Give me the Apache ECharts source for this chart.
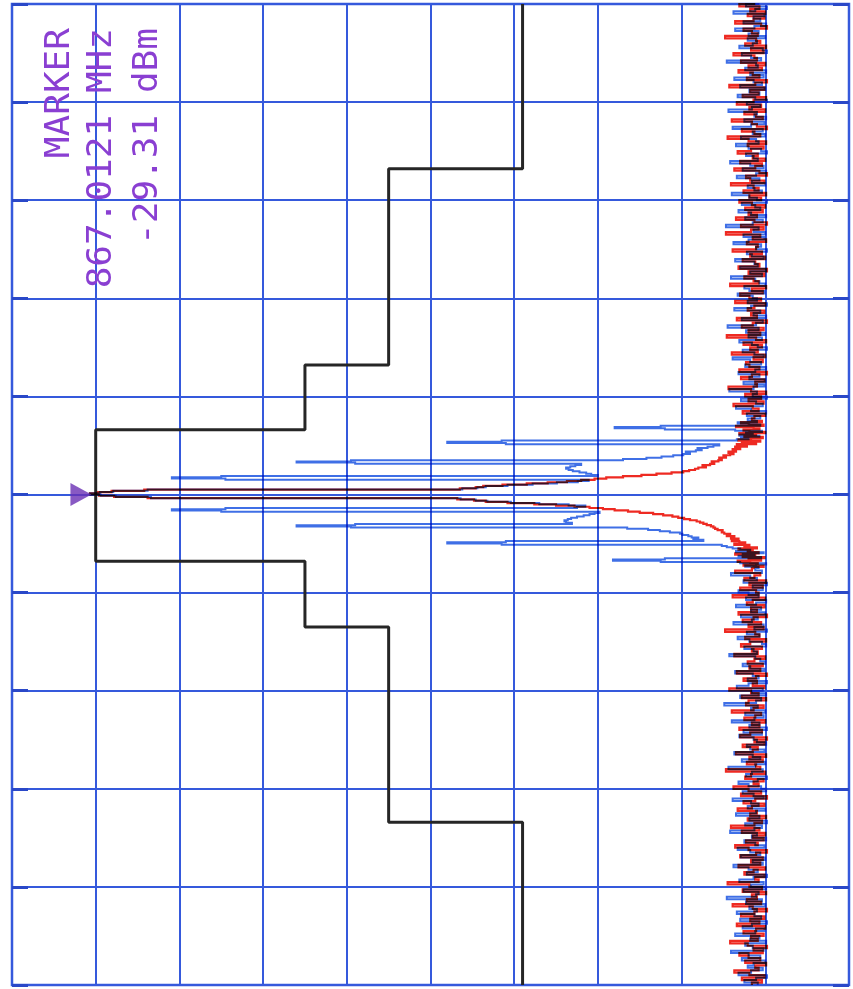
<!DOCTYPE html>
<html>
<head>
<meta charset="utf-8">
<title>Spectrum plot 867.0121 MHz</title>
<script src="https://cdn.jsdelivr.net/npm/echarts@6/dist/echarts.min.js"></script>
<style>
  html, body { margin: 0; padding: 0; background: #ffffff; }
  #chart { width: 853px; height: 989px; }
</style>
</head>
<body>
<div id="chart"></div>
<script>
// Analyzer settings: reference level, 10 dB/div, frequency offset from centre (kHz)
const refLevelDbm = -20;
const bottomLevelDbm = -120;
const dbPerDiv = 10;
const spanHalfKHz = 50;
const kHzPerDiv = 10;

// Marker readout
const markerFreqMHz = '867.0121';
const markerLevelDbm = -29.31;
const markerOffsetKHz = 0;

// Limit mask: frequency edges (kHz) and the level (dBm) between consecutive edges
const maskEdgesKHz = [-50, -33.4, -13.5, -6.8, 6.6, 13.2, 33.2, 50];
const maskLevelsDbm = [-81, -65, -55, -30, -55, -65, -81];

// Sweep bins: outer parts at 0.25 kHz, centre part at 0.125 kHz
const lowStartKHz = -50, lowStepKHz = 0.25, lowCount = 170;
const midStartKHz = -7.5, midStepKHz = 0.125, midCount = 121;
const highStartKHz = 7.75, highStepKHz = 0.25, highCount = 170;

// Trace A (red): unmodulated carrier, levels in dBm
const redLow = [
-108.4,-109.6,-107.2,-109.9,-108.1,-106.3,-109.2,-108.8,-110.1,-107.6,
-109.4,-108.0,-106.9,-109.7,-108.6,-110.2,-107.9,-105.8,-109.1,-108.3,
-109.8,-107.4,-108.9,-110.0,-106.6,-109.3,-108.2,-109.9,-107.1,-108.7,
-110.2,-108.5,-106.1,-109.5,-107.8,-109.0,-108.4,-110.1,-107.3,-109.6,
-108.1,-105.5,-109.2,-108.8,-109.9,-107.5,-108.6,-110.0,-106.8,-109.4,
-108.3,-109.7,-107.0,-108.9,-110.2,-108.0,-106.4,-109.1,-107.7,-109.8,
-108.5,-110.0,-107.2,-109.3,-105.9,-108.7,-109.6,-107.9,-110.1,-108.2,
-109.0,-106.7,-108.4,-109.9,-107.4,-108.8,-110.2,-107.1,-109.5,-108.0,
-106.2,-109.2,-108.6,-109.8,-107.6,-108.3,-110.0,-105.3,-109.4,-108.9,
-107.8,-109.7,-108.1,-110.1,-106.5,-108.5,-109.1,-107.3,-109.9,-108.7,
-110.2,-107.0,-108.2,-109.6,-106.9,-109.3,-108.4,-110.0,-107.5,-108.8,
-109.5,-106.0,-108.6,-109.8,-107.7,-108.0,-110.1,-107.2,-109.2,-108.3,
-105.7,-109.9,-108.5,-109.0,-107.4,-108.9,-110.2,-106.6,-109.4,-108.1,
-109.7,-107.9,-108.7,-110.0,-106.3,-109.1,-108.4,-109.6,-107.1,-108.2,
-110.1,-107.6,-109.3,-108.8,-105.2,-109.8,-108.0,-109.5,-107.3,-108.6,
-110.2,-106.8,-109.0,-108.3,-109.9,-107.8,-108.5,-110.0,-106.1,-109.2,
-108.9,-107.0,-109.7,-108.1,-110.1,-107.5,-108.7,-109.4,-106.4,-108.4
];
const redMid = [
-108.6,-109.8,-107.4,-109.1,-108.2,-106.7,-109.5,-108.0,-109.9,-107.3,
-108.8,-106.4,-109.2,-107.9,-108.5,-106.8,-109.0,-107.5,-108.1,-106.3,
-107.6,-106.9,-106.0,-106.8,-105.9,-106.3,-105.4,-105.8,-105.1,-104.8,
-104.9,-104.3,-104.0,-103.8,-103.5,-103.0,-102.6,-102.2,-101.8,-101.0,
-100.3,-99.6,-98.9,-97.8,-96.6,-95.0,-93.6,-92.0,-90.6,-89.0,
-87.2,-85.0,-82.4,-79.2,-76.6,-75.2,-73.2,-36.2,-32.2,-30.4,
-29.31,
-30.3,-31.9,-35.8,-73.5,-75.4,-76.3,-78.6,-81.5,-84.0,-86.3,
-88.0,-89.6,-91.0,-93.0,-95.2,-97.0,-98.8,-100.2,-100.9,-101.6,
-102.0,-102.9,-102.5,-103.4,-103.9,-103.6,-104.4,-104.8,-104.5,-105.3,
-105.0,-105.8,-106.2,-105.6,-106.5,-106.1,-107.0,-106.4,-107.8,-106.6,
-108.9,-107.2,-109.4,-106.8,-108.3,-109.7,-107.5,-108.9,-106.9,-110.0,
-108.1,-107.4,-109.3,-108.6,-106.5,-109.8,-108.0,-107.1,-109.6,-108.4
];
const redHigh = [
-108.7,-110.0,-107.3,-109.2,-108.5,-106.2,-109.8,-108.0,-109.5,-107.6,
-110.1,-108.3,-105.6,-109.0,-108.8,-109.9,-107.1,-108.4,-110.2,-106.9,
-109.3,-108.1,-107.7,-109.7,-108.6,-110.0,-106.0,-109.1,-108.2,-109.6,
-107.4,-110.1,-108.9,-105.4,-109.4,-108.0,-109.8,-107.2,-108.5,-110.2,
-106.6,-109.0,-108.3,-109.9,-107.9,-108.7,-110.0,-106.4,-109.5,-108.1,
-107.0,-109.7,-108.4,-110.1,-105.8,-109.2,-108.6,-107.5,-109.9,-108.0,
-110.2,-106.8,-109.3,-108.8,-107.3,-110.0,-108.2,-109.6,-106.1,-108.9,
-109.1,-107.8,-110.1,-108.5,-109.4,-105.3,-108.3,-109.8,-107.1,-110.2,
-108.7,-106.5,-109.0,-108.0,-109.7,-107.6,-110.0,-108.4,-106.9,-109.5,
-108.1,-110.1,-107.4,-109.2,-108.6,-105.9,-109.9,-108.2,-107.7,-110.2,
-109.3,-106.3,-108.8,-109.6,-107.0,-110.0,-108.5,-109.1,-106.7,-108.3,
-109.8,-107.9,-110.1,-108.0,-105.5,-109.4,-108.7,-107.2,-110.2,-109.0,
-108.4,-106.0,-109.7,-108.9,-107.5,-110.0,-108.1,-109.5,-106.6,-108.6,
-110.1,-107.3,-109.2,-108.2,-109.9,-105.7,-108.8,-110.2,-107.8,-109.3,
-108.5,-106.8,-109.6,-108.0,-110.0,-107.1,-109.0,-108.7,-106.2,-109.8,
-108.3,-110.1,-107.6,-109.4,-108.9,-105.2,-109.1,-108.4,-107.4,-110.2,
-109.5,-106.4,-108.6,-109.9,-107.9,-110.0,-108.2,-109.3,-106.9,-108.8
];

// Trace B (blue): modulated carrier with its spectral lines, levels in dBm
const blueLow = [
-109.1,-107.5,-108.9,-110.2,-106.8,-108.3,-109.7,-107.9,-108.6,-110.0,
-107.2,-109.4,-108.0,-105.9,-109.8,-108.5,-107.6,-110.1,-108.2,-109.3,
-106.4,-108.8,-109.9,-107.3,-108.4,-110.2,-107.0,-109.5,-108.7,-106.6,
-109.0,-108.1,-110.0,-107.7,-109.6,-105.4,-108.9,-109.2,-107.4,-110.1,
-108.3,-109.8,-106.9,-108.6,-110.2,-107.8,-109.1,-108.0,-106.2,-109.7,
-108.5,-110.0,-107.1,-109.4,-108.2,-106.7,-109.9,-108.8,-107.5,-110.1,
-108.4,-109.0,-105.8,-108.7,-109.6,-107.6,-110.2,-108.1,-109.3,-106.5,
-108.9,-110.0,-107.9,-109.2,-108.3,-106.1,-109.8,-108.6,-107.3,-110.1,
-109.5,-108.0,-106.8,-109.1,-110.2,-107.7,-108.4,-109.7,-105.6,-108.8,
-110.0,-107.2,-109.4,-108.5,-106.3,-109.9,-108.2,-107.8,-110.1,-109.0,
-108.6,-106.9,-109.6,-107.4,-110.2,-108.1,-109.3,-106.0,-108.7,-109.8,
-107.6,-110.0,-108.3,-109.1,-105.1,-108.9,-109.5,-107.0,-110.1,-108.4,
-109.7,-106.6,-108.0,-110.2,-107.9,-109.2,-108.5,-106.4,-109.9,-108.2,
-107.3,-110.0,-109.4,-108.8,-105.7,-109.0,-108.6,-107.5,-110.1,-109.6,
-108.1,-106.7,-109.3,-107.8,-110.2,-108.7,-109.8,-106.2,-108.4,-109.1,
-107.1,-110.0,-108.3,-109.5,-106.5,-108.9,-110.1,-107.7,-109.2,-108.0,
-106.8,-109.7,-108.5,-110.2,-107.4,-109.0,-108.2,-105.9,-109.6,-108.8
];
const blueMid = [
-109.2,-107.6,-108.9,-110.1,-107.0,-97.5,-91.8,-98.0,-109.5,-106.8,
-108.7,-107.3,-109.8,-106.5,-108.2,-107.0,-106.1,-105.4,-104.8,-78.5,
-72.0,-79.0,-102.6,-101.4,-102.0,-101.2,-100.8,-100.1,-99.8,-98.6,
-97.4,-96.0,-93.5,-60.5,-54.0,-61.0,-86.9,-86.2,-86.0,-86.4,
-86.8,-87.5,-88.3,-89.0,-89.6,-90.2,-45.0,-39.1,-45.5,-87.5,
-88.5,-86.5,-83.0,-79.6,-76.8,-75.4,-73.6,-36.6,-32.4,-30.6,
-29.31,
-30.5,-32.1,-36.2,-73.8,-75.6,-76.6,-79.2,-82.2,-85.1,-87.6,
-88.9,-45.5,-39.1,-45.0,-90.0,-89.2,-88.6,-87.8,-87.0,-86.5,
-86.2,-86.7,-87.3,-88.0,-61.0,-54.0,-60.5,-93.0,-95.8,-97.6,
-99.0,-100.2,-101.0,-100.5,-101.7,-102.4,-101.9,-103.1,-103.8,-104.5,
-79.0,-72.0,-78.5,-106.6,-108.0,-107.1,-109.3,-106.9,-108.5,-107.7,
-109.6,-106.4,-98.0,-92.0,-97.5,-109.4,-108.1,-106.7,-109.0,-107.9
];
const blueHigh = [
-109.4,-107.8,-110.1,-108.3,-106.5,-109.7,-108.9,-107.1,-110.2,-108.5,
-109.0,-105.7,-108.6,-109.9,-107.4,-110.0,-108.1,-109.3,-106.8,-108.8,
-110.1,-107.6,-109.5,-108.2,-106.1,-109.8,-108.7,-107.3,-110.2,-109.1,
-108.4,-106.9,-109.6,-108.0,-110.0,-107.7,-109.2,-105.5,-108.9,-109.7,
-107.2,-110.1,-108.6,-109.4,-106.3,-108.3,-110.2,-107.9,-109.0,-108.5,
-106.7,-109.9,-108.1,-107.5,-110.0,-109.3,-108.8,-105.9,-109.6,-108.2,
-110.1,-107.0,-109.1,-108.7,-106.4,-109.8,-108.4,-107.8,-110.2,-108.9,
-109.5,-106.2,-108.0,-109.9,-107.4,-110.0,-108.6,-109.2,-105.3,-108.5,
-109.7,-107.6,-110.1,-108.3,-106.8,-109.4,-108.8,-107.2,-110.2,-109.0,
-108.1,-106.0,-109.6,-108.7,-107.9,-110.0,-108.4,-109.3,-106.6,-108.9,
-110.1,-107.3,-109.8,-108.2,-105.8,-109.1,-108.6,-107.7,-110.2,-109.5,
-108.0,-106.5,-109.2,-108.9,-107.1,-110.0,-108.5,-109.7,-106.1,-108.3,
-109.9,-107.5,-110.1,-108.7,-109.0,-105.6,-108.4,-109.4,-107.8,-110.2,
-108.8,-106.7,-109.3,-108.1,-110.0,-107.0,-109.6,-108.6,-106.3,-109.8,
-108.2,-110.1,-107.6,-109.1,-108.9,-105.4,-109.5,-108.3,-107.2,-110.2,
-109.7,-106.9,-108.5,-109.0,-107.9,-110.0,-108.0,-109.2,-106.4,-108.7,
-110.1,-107.4,-109.4,-108.6,-109.9,-106.2,-108.8,-110.2,-107.7,-109.3
];

// Colours of the plotter pens and paper grid
const gridBlue = '#3559dc';
const tickBlue = '#2a48c8';
const redPen = '#ee2a22';
const bluePen = '#3f6fe6';
const maskPen = '#262626';
const markerPurple = '#8a3fd2';
const markerTriangle = '#6a2fb4';

// --- helpers -------------------------------------------------------------
function sweepBins(start, step, count) {
  const out = [];
  for (let i = 0; i < count; i++) out.push(+(start + i * step).toFixed(4));
  return out;
}
const sweepKHz = sweepBins(lowStartKHz, lowStepKHz, lowCount)
  .concat(sweepBins(midStartKHz, midStepKHz, midCount))
  .concat(sweepBins(highStartKHz, highStepKHz, highCount));

const redTrace = redLow.concat(redMid, redHigh);
const blueTrace = blueLow.concat(blueMid, blueHigh);

// points as [level, frequency]: level runs horizontally, frequency vertically
function tracePoints(levels) {
  return levels.map((lv, i) => [lv, sweepKHz[i]]);
}

// The plotter holds each bin's level until the next bin, then jumps:
// a staircase through the sweep, so every level change is a straight stroke.
function staircase(pts) {
  const out = [];
  for (let i = 0; i < pts.length; i++) {
    out.push(pts[i]);
    if (i + 1 < pts.length) out.push([pts[i][0], pts[i + 1][1]]);
  }
  return out;
}

// Pen trace drawn as one polyline
function penSeries(name, levels, color, width, z) {
  const pts = tracePoints(levels);
  const path = staircase(pts);
  return {
    type: 'custom',
    name: name,
    coordinateSystem: 'cartesian2d',
    xAxisIndex: 0,
    yAxisIndex: 0,
    z: z,
    silent: true,
    data: pts,
    encode: { x: 0, y: 1 },
    renderItem: function (params, api) {
      if (params.dataIndex !== 0) return null;
      const screen = path.map(p => api.coord(p));
      return {
        type: 'polyline',
        shape: { points: screen },
        style: {
          stroke: color,
          lineWidth: width,
          fill: null,
          lineJoin: 'miter',
          blend: 'multiply'
        }
      };
    }
  };
}

// Mask corners built from the edge/level tables
const maskPoints = [];
for (let i = 0; i < maskLevelsDbm.length; i++) {
  maskPoints.push([maskLevelsDbm[i], maskEdgesKHz[i]]);
  maskPoints.push([maskLevelsDbm[i], maskEdgesKHz[i + 1]]);
}

const chart = echarts.init(document.getElementById('chart'), null, { renderer: 'canvas' });

const levelAxisBase = {
  type: 'value',
  min: bottomLevelDbm,
  max: refLevelDbm,
  interval: dbPerDiv,
  inverse: true,
  axisLabel: { show: false },
  axisLine: { show: false }
};
const freqAxisBase = {
  type: 'value',
  min: -spanHalfKHz,
  max: spanHalfKHz,
  interval: kHzPerDiv,
  axisLabel: { show: false },
  axisLine: { show: false }
};

chart.setOption({
  animation: false,
  backgroundColor: '#ffffff',
  grid: {
    left: 12, right: 4, top: 4, bottom: 4,
    show: true,
    borderColor: gridBlue,
    borderWidth: 2.5,
    backgroundColor: 'transparent'
  },
  xAxis: [
    Object.assign({}, levelAxisBase, {
      position: 'bottom',
      axisTick: { show: false },
      splitLine: { show: true, lineStyle: { color: gridBlue, width: 2 } }
    })
  ],
  yAxis: [
    Object.assign({}, freqAxisBase, {
      position: 'left',
      axisTick: { show: true, inside: true, length: 16, lineStyle: { color: tickBlue, width: 3 } },
      splitLine: { show: true, lineStyle: { color: gridBlue, width: 2 } }
    }),
    Object.assign({}, freqAxisBase, {
      position: 'right',
      axisTick: { show: true, inside: true, length: 16, lineStyle: { color: tickBlue, width: 3 } },
      splitLine: { show: false }
    })
  ],
  series: [
    {
      type: 'line',
      name: 'mask',
      data: maskPoints,
      xAxisIndex: 0,
      yAxisIndex: 0,
      symbol: 'none',
      silent: true,
      z: 3,
      lineStyle: { color: maskPen, width: 3 }
    },
    penSeries('trace B', blueTrace, bluePen, 2, 4),
    penSeries('trace A', redTrace, redPen, 2.2, 5),
    {
      type: 'scatter',
      name: 'marker',
      data: [[markerLevelDbm, markerOffsetKHz]],
      xAxisIndex: 0,
      yAxisIndex: 0,
      symbol: 'path://M0,0 L20,11 L0,22 Z',
      symbolSize: [21, 23],
      symbolOffset: [-9, 0],
      z: 6,
      silent: true,
      itemStyle: { color: markerTriangle }
    }
  ],
  graphic: [
    ['MARKER', 60],
    [markerFreqMHz + ' MHz', 102],
    [markerLevelDbm.toFixed(2) + ' dBm', 148]
  ].map(([txt, cx]) => ({
    type: 'text',
    x: cx,
    y: 28,
    rotation: Math.PI / 2,
    scaleX: 1.06,
    z: 10,
    silent: true,
    style: {
      text: txt,
      x: 0,
      y: 0,
      fill: markerPurple,
      font: '34px "DejaVu Sans Mono"',
      textAlign: 'right',
      textVerticalAlign: 'middle',
      align: 'right',
      verticalAlign: 'middle'
    }
  }))
});

// Where the red and blue inks cross on paper they darken each other:
// give the pen strokes a multiply composite so overlaps print dark.
function inkOverlap() {
  const zr = chart.getZr();
  let changed = false;
  zr.storage.getDisplayList(true).forEach(function (el) {
    const st = el.style;
    if (st && (st.stroke === redPen || st.stroke === bluePen) && st.blend !== 'multiply') {
      st.blend = 'multiply';
      el.markRedraw();
      changed = true;
    }
  });
  if (changed) zr.refreshImmediately();
}
inkOverlap();
chart.on('finished', inkOverlap);
</script>
</body>
</html>
